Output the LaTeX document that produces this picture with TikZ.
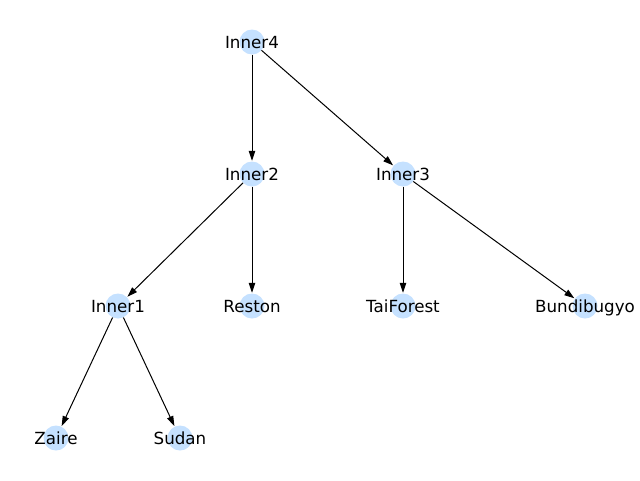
\documentclass[tikz,border=0pt]{standalone}
\usepackage{fontspec}
\setmainfont{DejaVu Sans}
\usetikzlibrary{arrows.meta}
\definecolor{nodeblue}{RGB}{197,225,255}

\begin{document}
\begin{tikzpicture}[x=1pt,y=-1pt,
    vertex/.style={circle,fill=nodeblue,draw=none,minimum size=25pt,inner sep=0pt},
    vlabel/.style={inner sep=0pt,text height=12.4pt,text depth=0pt,font=\fontsize{16.7}{20}\selectfont},
    link/.style={draw,line width=1pt,-{Stealth[length=10pt,width=6.5pt,inset=0pt]},shorten >=0.5pt}
]
    \useasboundingbox (0,0) rectangle (640,480);

    \node[vertex] (inner4) at (252,42) {};
    \node[vertex] (inner2) at (252,174) {};
    \node[vertex] (inner3) at (403,174) {};
    \node[vertex] (inner1) at (118,306) {};
    \node[vertex] (reston) at (252,306) {};
    \node[vertex] (taiforest) at (403,306) {};
    \node[vertex] (bundibugyo) at (585,306) {};
    \node[vertex] (zaire) at (56,438) {};
    \node[vertex] (sudan) at (180,438) {};

    \draw[link] (inner4) -- (inner2);
    \draw[link] (inner4) -- (inner3);
    \draw[link] (inner2) -- (inner1);
    \draw[link] (inner2) -- (reston);
    \draw[link] (inner3) -- (taiforest);
    \draw[link] (inner3) -- (bundibugyo);
    \draw[link] (inner1) -- (zaire);
    \draw[link] (inner1) -- (sudan);

    % labels over the circles
    \node[vlabel] at (inner4) {Inner4};
    \node[vlabel] at (inner2) {Inner2};
    \node[vlabel] at (inner3) {Inner3};
    \node[vlabel] at (inner1) {Inner1};
    \node[vlabel] at (reston) {Reston};
    \node[vlabel] at (taiforest) {TaiForest};
    \node[vlabel] at (bundibugyo) {Bundibugyo};
    \node[vlabel] at (zaire) {Zaire};
    \node[vlabel] at (sudan) {Sudan};

\end{tikzpicture}
\end{document}
